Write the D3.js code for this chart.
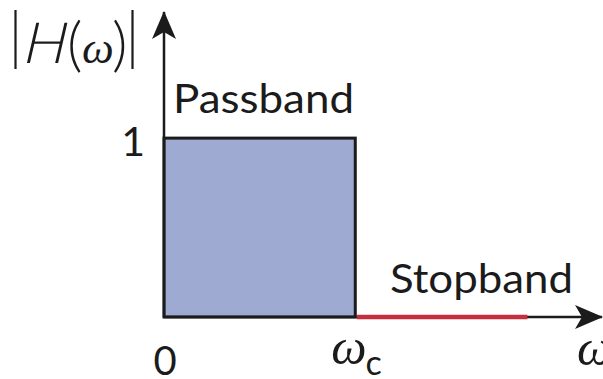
<!DOCTYPE html>
<html>
<head>
<meta charset="utf-8">
<script src="https://cdn.jsdelivr.net/npm/d3@7/dist/d3.min.js"></script>
<style>
  html, body { margin: 0; padding: 0; background: #fff; }
  svg { display: block; }
</style>
</head>
<body>
<svg id="chart" width="603" height="379"></svg>
<script>
// Ideal low-pass filter magnitude response |H(ω)|
const bandNames = ["Passband", "Stopband"];
const bandStart = [0, 1];      // in units of ωc
const bandEnd = [1, 1.9];
const bandGain = [1, 0];
const xTickValues = [0, 1];
const xTickLabels = ["0", "ωc"];
const yTickValues = [1];
const yTickLabels = ["1"];
const xAxisMax = 2.29;
const yAxisMax = 1.705;

const svg = d3.select("#chart");
const x = d3.scaleLinear().domain([0, xAxisMax]).range([164, 602]);
const y = d3.scaleLinear().domain([0, yAxisMax]).range([317, 12]);

const ink = "#1b1b1b";
const sans = "Lato, 'Liberation Sans', sans-serif";
const serif = "'Liberation Serif', 'Times New Roman', serif";
const labelWeight = 400;

// arrowheads
const defs = svg.append("defs");
defs.append("marker")
  .attr("id", "arrow").attr("markerUnits", "userSpaceOnUse")
  .attr("viewBox", "0 -13 28 26").attr("refX", 27).attr("refY", 0)
  .attr("markerWidth", 28).attr("markerHeight", 26).attr("orient", "auto")
  .append("path").attr("d", "M0,-12 L28,0 L0,12 L7,0 Z").attr("fill", ink);

// passband block
const pass = { s: bandStart[0], e: bandEnd[0], g: bandGain[0] };
svg.append("rect")
  .attr("x", x(pass.s)).attr("y", y(pass.g))
  .attr("width", x(pass.e) - x(pass.s)).attr("height", y(0) - y(pass.g))
  .attr("fill", "#9eaad1").attr("stroke", ink).attr("stroke-width", 3);

// axes
svg.append("line")
  .attr("x1", x(0)).attr("y1", y(0)).attr("x2", x(0)).attr("y2", y(yAxisMax))
  .attr("stroke", ink).attr("stroke-width", 2.5).attr("marker-end", "url(#arrow)");
svg.append("line")
  .attr("x1", x(0)).attr("y1", y(0)).attr("x2", x(xAxisMax)).attr("y2", y(0))
  .attr("stroke", ink).attr("stroke-width", 2.5).attr("marker-end", "url(#arrow)");

// stopband segment
svg.append("line")
  .attr("x1", x(bandStart[1]) + 1.5).attr("y1", y(bandGain[1]))
  .attr("x2", x(bandEnd[1])).attr("y2", y(bandGain[1]))
  .attr("stroke", "#c42f3d").attr("stroke-width", 4.5);

// band labels
svg.append("text").text(bandNames[0])
  .attr("x", x(bandStart[0]) + 9).attr("y", 113)
  .attr("font-family", sans).attr("font-weight", labelWeight).attr("font-size", 41).attr("fill", ink)
  .attr("textLength", 181).attr("lengthAdjust", "spacingAndGlyphs");
svg.append("text").text(bandNames[1])
  .attr("x", 390).attr("y", 293)
  .attr("font-family", sans).attr("font-weight", labelWeight).attr("font-size", 41).attr("fill", ink)
  .attr("textLength", 183).attr("lengthAdjust", "spacingAndGlyphs");

// y tick label
svg.selectAll(".ytick").data(yTickValues).enter().append("text")
  .text((d, i) => yTickLabels[i])
  .attr("x", x(0) - 19).attr("y", d => y(d) + 18)
  .attr("text-anchor", "end")
  .attr("font-family", sans).attr("font-weight", labelWeight).attr("font-size", 41).attr("fill", ink);

// x tick labels
svg.append("text").text(xTickLabels[0])
  .attr("x", x(xTickValues[0]) + 1).attr("y", 375).attr("text-anchor", "middle")
  .attr("font-family", sans).attr("font-weight", labelWeight).attr("font-size", 40).attr("fill", ink);
const wc = svg.append("text")
  .attr("x", x(xTickValues[1]) - 24).attr("y", 364)
  .attr("fill", ink);
wc.append("tspan").text(xTickLabels[1].charAt(0))
  .attr("font-family", serif).attr("font-style", "italic").attr("font-size", 50);
wc.append("tspan").text(xTickLabels[1].charAt(1))
  .attr("dy", 11).attr("dx", -1)
  .attr("font-family", sans).attr("font-weight", labelWeight).attr("font-size", 34);

// x axis name
svg.append("text").text("ω")
  .attr("x", 577).attr("y", 365)
  .attr("font-family", serif).attr("font-style", "italic")
  .attr("font-size", 50).attr("fill", ink);

// y axis name |H(ω)|
svg.append("line").attr("x1", 15.5).attr("x2", 15.5).attr("y1", 10).attr("y2", 69)
  .attr("stroke", ink).attr("stroke-width", 2.2);
svg.append("line").attr("x1", 132.5).attr("x2", 132.5).attr("y1", 10).attr("y2", 69)
  .attr("stroke", ink).attr("stroke-width", 2.2);
svg.append("text").text("H")
  .attr("transform", "translate(21,63) skewX(-13)")
  .attr("font-family", sans).attr("font-weight", 300).attr("font-size", 57).attr("fill", ink);
const paren = (ch, px) => svg.append("text").text(ch)
  .attr("x", px).attr("y", 65)
  .attr("font-family", sans).attr("font-weight", 300).attr("font-size", 60).attr("fill", ink);
paren("(", 67);
svg.append("text").text("ω")
  .attr("x", 82).attr("y", 63)
  .attr("font-family", serif).attr("font-style", "italic").attr("font-size", 45).attr("fill", ink);
paren(")", 112);
</script>
</body>
</html>
